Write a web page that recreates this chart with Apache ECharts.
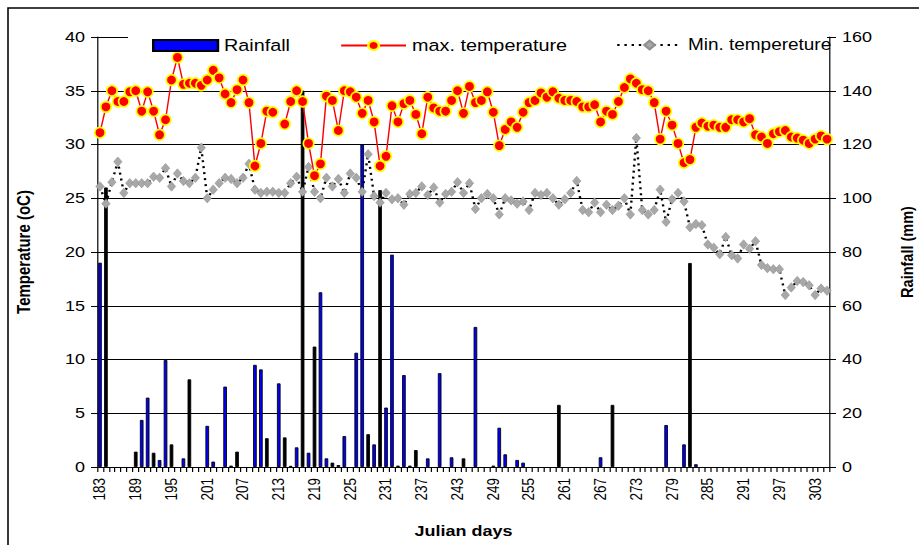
<!DOCTYPE html>
<html>
<head>
<meta charset="utf-8">
<script src="https://cdn.jsdelivr.net/npm/echarts@6/dist/echarts.min.js"></script>
<style>
html,body{margin:0;padding:0;background:#fff;overflow:hidden;}
#wrap{width:919px;height:545px;overflow:hidden;position:relative;}
#chart{width:766px;height:545px;transform:scaleX(1.2);transform-origin:0 0;}
</style>
</head>
<body>
<div id="wrap"><div id="chart"></div></div>
<script>
// ---- data ----
const days = [183,184,185,186,187,188,189,190,191,192,
193,194,195,196,197,198,199,200,201,202,
203,204,205,206,207,208,209,210,211,212,
213,214,215,216,217,218,219,220,221,222,
223,224,225,226,227,228,229,230,231,232,
233,234,235,236,237,238,239,240,241,242,
243,244,245,246,247,248,249,250,251,252,
253,254,255,256,257,258,259,260,261,262,
263,264,265,266,267,268,269,270,271,272,
273,274,275,276,277,278,279,280,281,282,
283,284,285,286,287,288,289,290,291,292,
293,294,295,296,297,298,299,300,301,302,
303,304,305];

const rainfall = [76,104,0,0,0,0,5.7,17.5,25.8,5.3,
2.6,39.8,8.4,0,3.2,32.6,0,0,15.3,2.0,
0,29.9,0.5,5.7,0,0,38,36.3,10.7,0,
31.1,11.0,0.4,7.3,140,5.3,44.8,65,3.2,1.6,
0.7,11.5,0,42.5,120,12.2,8.4,103,22.1,79,
0.5,34.2,0.5,6.3,0,3.2,0,34.9,0,3.6,
0,3.2,0,52.1,0,0,0.5,14.6,4.7,0,
2.6,1.6,0,0,0,0,0,23.1,0,0,
0,0,0,0,3.6,0,23.1,0,0,0,
0,0,0,0,0,15.6,0,0,8.4,75.9,
1.0,0,0,0,0,0,0,0,0,0,
0,0,0,0,0,0,0,0,0,0,
0,0,0];

const maxTemp = [31.1,33.5,35.0,34.0,34.0,34.9,35.0,33.1,34.9,33.1,
30.9,32.3,36.0,38.1,35.6,35.7,35.7,35.5,36.0,36.9,
36.2,34.7,33.9,35.1,36.0,33.9,28.0,30.1,33.1,33.0,
null,31.9,34.0,35.0,34.0,30.1,27.1,28.2,34.5,34.1,
31.3,35.0,34.9,34.4,32.9,34.1,32.1,28.0,28.9,33.6,
32.1,33.8,34.1,32.8,31.0,34.4,33.4,33.1,33.1,34.1,
35.0,32.9,35.4,33.9,34.1,34.9,33.0,29.9,31.4,32.1,
31.6,33.0,33.9,34.1,34.8,34.4,34.9,34.3,34.1,34.1,
34.0,33.5,33.5,33.7,32.1,33.1,32.8,34.0,35.3,36.1,
35.7,35.1,35.0,33.9,30.5,33.1,31.8,30.1,28.3,28.6,
31.6,32.0,31.7,31.8,31.6,31.6,32.3,32.3,32.1,32.4,
30.9,30.7,30.1,31.0,31.2,31.3,30.7,30.6,30.4,30.1,
30.5,30.8,30.5];

const minTemp = [26.1,24.5,26.5,28.4,25.5,26.4,26.4,26.4,26.4,27.0,
26.9,27.8,26.1,27.3,26.6,26.4,26.9,29.7,25.0,25.8,
26.4,26.9,26.8,26.4,26.9,28.2,25.8,25.5,25.6,25.6,
25.5,25.5,26.4,27.0,25.6,27.9,25.6,25.0,26.9,26.1,
26.8,25.5,27.3,26.9,25.6,29.1,25.2,24.6,25.5,24.9,
25.0,24.4,25.4,25.5,26.1,25.3,26.0,24.6,25.4,25.6,
26.5,25.5,26.4,24.0,25.0,25.4,25.0,23.5,25.0,24.8,
24.5,24.7,23.9,25.5,25.3,25.5,25.0,24.4,24.9,25.5,
26.6,23.9,23.7,24.6,23.7,24.4,23.9,24.3,25.0,23.5,
30.6,23.9,23.5,23.9,25.8,22.8,24.9,25.5,24.7,22.3,
22.6,22.5,20.7,20.4,19.8,21.4,19.7,19.4,20.7,20.3,
21.0,18.8,18.5,18.4,18.4,16.0,16.7,17.3,17.2,16.9,
16.0,16.6,16.4];

const seriesNames = ['Rainfall', 'max. temperature', 'Min. tempereture'];

// ---- style (kept apart from the data) ----
const darkBarDays = [184,189,192,195,198,205,206,211,214,215,217,219,222,223,228,230,233,235,236,244,249,260,269,282];
const FONT = 'Liberation Sans, Arial, sans-serif';
const SX = 1.2; // horizontal stretch of the whole picture

const barData = rainfall.map((v, i) => {
  if (!v) return '-';
  if (darkBarDays.indexOf(days[i]) >= 0) return {value: v, itemStyle: {color: '#000'}};
  return v;
});

const legendBase = {
  top: 37, padding: 0, itemGap: 0, itemWidth: 54, itemHeight: 11,
  textStyle: {fontSize: 16.5, fontFamily: FONT, color: '#000'}
};

const chart = echarts.init(document.getElementById('chart'), null, {renderer: 'svg'});
chart.setOption({
  animation: false,
  backgroundColor: '#fff',
  grid: {left: 97 / SX, right: 766 - 830 / SX, top: 37, bottom: 78, outerBoundsMode: 'none', containLabel: false},
  legend: [
    Object.assign({}, legendBase, {data: [{name: seriesNames[0], icon: 'rect'}], left: 152 / SX}),
    Object.assign({}, legendBase, {data: [seriesNames[1]], left: 340 / SX}),
    Object.assign({}, legendBase, {data: [seriesNames[2]], left: 616 / SX,
      textStyle: {fontSize: 15.8, fontFamily: FONT, color: '#000'}})
  ],
  graphic: [
    {type: 'rect', z: 3, shape: {x: 128 / SX, y: 34, width: (827 - 128) / SX, height: 6}, style: {fill: '#fff'}},
    {type: 'rect', z: 10, shape: {x: 8 / SX, y: 8, width: 1000, height: 1000}, style: {fill: 'none', stroke: '#000', lineWidth: 1.3}}
  ],
  xAxis: {
    type: 'category', data: days.map(String), boundaryGap: true,
    name: 'Julian days', nameLocation: 'middle', nameGap: 57,
    nameTextStyle: {fontSize: 15, fontWeight: 'bold', fontFamily: FONT, color: '#000'},
    axisLine: {lineStyle: {color: '#000', width: 1}},
    axisTick: {show: true, interval: 0, length: 5, lineStyle: {color: '#000'}},
    axisLabel: {interval: 5, rotate: 90, fontSize: 13.5, margin: 11, fontFamily: FONT, color: '#000'},
    splitLine: {show: false}
  },
  yAxis: [
    {
      type: 'value', position: 'left', min: 0, max: 40, interval: 5,
      name: 'Temperature (oC)', nameLocation: 'middle', nameRotate: 90, nameGap: 53,
      nameTextStyle: {fontSize: 15, fontWeight: 'bold', fontFamily: FONT, color: '#000'},
      axisLine: {show: true, lineStyle: {color: '#000', width: 1}},
      axisTick: {show: true, length: 5, lineStyle: {color: '#000'}},
      axisLabel: {fontSize: 15, margin: 10, fontFamily: FONT, color: '#000'},
      splitLine: {show: true, lineStyle: {color: '#000', width: 1}}
    },
    {
      type: 'value', position: 'right', min: 0, max: 160, interval: 20,
      name: 'Rainfall (mm)', nameLocation: 'middle', nameRotate: 90, nameGap: 57,
      nameTextStyle: {fontSize: 14.5, fontWeight: 'bold', fontFamily: FONT, color: '#000'},
      axisLine: {show: true, lineStyle: {color: '#000', width: 1}},
      axisTick: {show: true, length: 5, lineStyle: {color: '#000'}},
      axisLabel: {fontSize: 15, margin: 10, fontFamily: FONT, color: '#000'},
      splitLine: {show: false}
    }
  ],
  series: [
    {
      name: seriesNames[0], type: 'bar', yAxisIndex: 1, barWidth: 3.1, z: 1,
      itemStyle: {color: '#0000FF', borderColor: '#000', borderWidth: 0.8},
      data: barData
    },
    {
      name: seriesNames[2], type: 'line', yAxisIndex: 0, z: 2, showAllSymbol: true,
      symbol: 'diamond', symbolSize: [8 / SX * 1.05, 9.5],
      lineStyle: {color: '#000', width: 2, type: [2, 4]},
      itemStyle: {color: '#A8A8A8', borderColor: '#8F8F8F', borderWidth: 0.5},
      data: minTemp
    },
    {
      name: seriesNames[1], type: 'line', yAxisIndex: 0, z: 3, connectNulls: false, showAllSymbol: true,
      symbol: 'circle', symbolSize: [10.5 / SX, 10.5],
      lineStyle: {color: '#FF0000', width: 1.2},
      itemStyle: {color: '#FF0000', borderColor: '#FFFF00', borderWidth: 1.5},
      data: maxTemp
    }
  ]
});
</script>
</body>
</html>
